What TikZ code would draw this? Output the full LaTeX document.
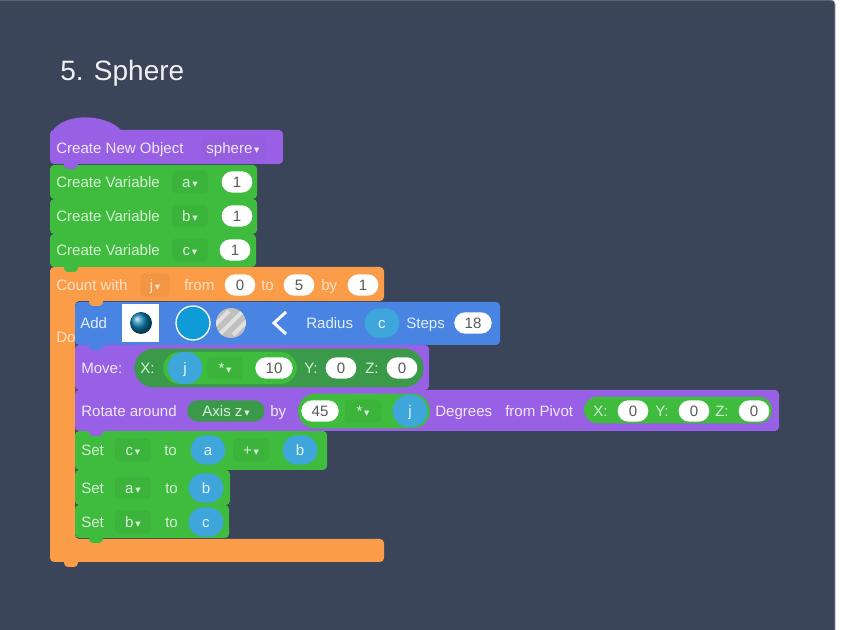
\documentclass[tikz,border=0pt]{standalone}
\usepackage{fontspec}
\setmainfont{Liberation Sans}
\newfontfamily\symfont{DejaVu Sans}
\usetikzlibrary{shapes.misc}

\definecolor{panelblue}{HTML}{3B4559}
\definecolor{blockpurple}{HTML}{9860E4}
\definecolor{blockgreen}{HTML}{3FBB3E}
\definecolor{blockorange}{HTML}{FB9C48}
\definecolor{blockblue}{HTML}{4A84E2}
\definecolor{varblue}{HTML}{3FA6DC}
\definecolor{darkgreen}{HTML}{3A9A4A}
\definecolor{colourblue}{HTML}{0F9BD7}
\definecolor{ballblue}{HTML}{0A7FB0}

% one stacked block with the small tab under it
\newcommand{\stackblock}[5]{
  \fill[#1,rounded corners=3pt] (#2,#3) rectangle (#4,#5);
  \fill[#1,rounded corners=3pt] ({#2+14},{#5-6}) rectangle ({#2+28},{#5+5});
}
\newcommand{\dn}{{\symfont\footnotesize\,▾}}

\begin{document}
\begin{tikzpicture}[x=0.75pt,y=-0.75pt,
  block text/.style={font=\fontsize{11.3}{13}\selectfont,text height=8pt,text depth=0pt},
  title node/.style={anchor=west,inner sep=0pt,text=white!92!panelblue,font=\fontsize{21}{23}\selectfont,text height=14.5pt,text depth=0pt},
  word node/.style={anchor=west,inner sep=0pt,block text},
  on purple/.style={word node,text=white!85!blockpurple},
  on green/.style={word node,text=white!78!blockgreen},
  on orange/.style={word node,text=white!70!blockorange},
  on blue/.style={word node,text=white!85!blockblue},
  val node/.style={rounded rectangle,fill=white,text=black!65,inner sep=0pt,minimum height=16pt,minimum width=23pt,block text},
  var node/.style={rounded rectangle,fill=varblue,text=white!88!varblue,inner sep=0pt,minimum height=22pt,minimum width=26pt,block text},
  drop node/.style={rounded corners=3pt,inner sep=0pt,minimum height=17pt,block text},
  green drop/.style={drop node,fill=blockgreen!96!black,text=white!78!blockgreen,minimum width=27pt},
  orange drop/.style={drop node,fill=blockorange!96!black,text=white!70!blockorange,minimum width=22pt},
  purple drop/.style={drop node,fill=blockpurple!98!black,text=white!85!blockpurple,minimum width=48pt}]

  \useasboundingbox (0,0) rectangle (843,630);
  \fill[white] (0,0) rectangle (843,630);
  \fill[panelblue,draw=gray!80,rounded corners=3pt] (-5,0) rectangle (835,640);

  \node[title node] (title) at (60,71) {5. Sphere};

  % orange loop, drawn first
  \fill[blockorange,rounded corners=3pt] (50,267) -- (384,267) -- (384,301) -- (75,301)
    -- (75,539) -- (384,539) -- (384,562) -- (50,562) -- cycle;
  \fill[blockorange,rounded corners=3pt] (64,555) rectangle (78,567);
  \node[on orange] (do) at (56,337) {Do};

  % inner blocks, from the bottom up
  \stackblock{blockgreen}{75}{505}{229}{538}
  \stackblock{blockgreen}{75}{470}{230}{505}
  \stackblock{blockgreen}{75}{431}{327}{470}
  \stackblock{blockpurple}{75}{390}{779}{431}
  \stackblock{blockpurple}{75}{345}{429}{390}
  \stackblock{blockblue}{75}{302}{500}{345}
  \fill[blockorange,rounded corners=3pt] (89,296) rectangle (103,306);

  % outer stack
  \stackblock{blockgreen}{50}{234}{256}{267}
  \stackblock{blockgreen}{50}{199}{257}{234}
  \stackblock{blockgreen}{50}{165}{257}{199}
  \stackblock{blockpurple}{50}{130}{283}{164}
  \fill[blockpurple] (50,136) .. controls (58,112) and (105,112) .. (122,131) -- cycle;

  % create object and variables
  \node[on purple] (create) at (56,148) {Create New Object};
  \node[purple drop] (sphere) at (233,148) {sphere\dn};
  \foreach \name/\ypos/\pillx in {a/182/237,b/216/237,c/250/235}{
    \node[on green] (var\name) at (56,\ypos) {Create Variable};
    \node[green drop] (drop\name) at (190,\ypos) {\name\dn};
    \node[val node] (init\name) at (\pillx,\ypos) {1};
  }

  % count row
  \node[on orange] (count) at (56,285) {Count with};
  \node[orange drop] (dropj) at (155,285) {j\dn};
  \node[on orange] (from) at (184,285) {from};
  \node[val node] (start) at (240,285) {0};
  \node[on orange] (to) at (261,285) {to};
  \node[val node] (stop) at (299,285) {5};
  \node[on orange] (by) at (321,285) {by};
  \node[val node] (stepval) at (363,285) {1};

  % add row
  \node[on blue] (add) at (80,323) {Add};
  \fill[white] (122,304) rectangle (159,342);
  \shade[ball color=ballblue] (141,323) circle (11);
  \fill[colourblue,draw=white,line width=1pt] (193,323) circle (17);
  \begin{scope}
    \clip (231,323) circle (15);
    \fill[black!25] (215,307) rectangle (247,339);
    \foreach \dx in {-14,0,14}
      \draw[black!12,line width=3pt] ({231+\dx-12},335) -- ({231+\dx+12},311);
  \end{scope}
  \draw[white,line width=2.2pt] (286,312) -- (274,323) -- (286,334);
  \node[on blue] (radius) at (306,323) {Radius};
  \node[var node] (varc) at (382,323) {c};
  \node[on blue] (steps) at (406,323) {Steps};
  \node[val node,minimum width=28pt] (stepsval) at (473,323) {18};

  % move row
  \node[on purple] (move) at (81,368) {Move:};
  \node[rounded rectangle,fill=darkgreen,minimum width=217pt,minimum height=29pt,inner sep=0pt] (movexyz) at (279,368) {};
  \node[rounded rectangle,fill=blockgreen,minimum width=100pt,minimum height=24pt,inner sep=0pt] (movemul) at (230,368) {};
  \node[on green] (movex) at (140,368) {X:};
  \node[var node,minimum height=24pt] (movej) at (185,368) {j};
  \node[green drop] (movestar) at (225,368) {*\dn};
  \node[val node,minimum width=28pt] (moveten) at (274,368) {10};
  \node[on green] (movey) at (304,368) {Y:};
  \node[val node] (movezero) at (341,368) {0};
  \node[on green] (movez) at (365,368) {Z:};
  \node[val node] (moveznum) at (402,368) {0};

  % rotate row
  \node[on purple] (rotate) at (81,411) {Rotate around};
  \node[rounded rectangle,fill=darkgreen,text=white!78!blockgreen,minimum width=58pt,minimum height=16pt,inner sep=0pt,block text] (axis) at (226,411) {Axis z\dn};
  \node[on purple] (byrot) at (270,411) {by};
  \node[rounded rectangle,fill=blockgreen,minimum width=99pt,minimum height=26pt,inner sep=0pt] (rotmul) at (364,411) {};
  \node[val node,minimum width=28pt] (fortyfive) at (320,411) {45};
  \node[green drop] (rotstar) at (363,411) {*\dn};
  \node[var node,minimum height=24pt] (rotj) at (410,411) {j};
  \node[on purple] (degrees) at (435,411) {Degrees};
  \node[on purple] (pivot) at (505,411) {from Pivot};
  \node[rounded rectangle,fill=blockgreen,minimum width=141pt,minimum height=20pt,inner sep=0pt] (pivotxyz) at (678,410) {};
  \node[on green] (pivx) at (593,411) {X:};
  \node[val node] (pivxval) at (633,411) {0};
  \node[on green] (pivy) at (655,411) {Y:};
  \node[val node] (pivyval) at (694,411) {0};
  \node[on green] (pivz) at (715,411) {Z:};
  \node[val node] (pivzval) at (754,411) {0};

  % set rows
  \node[on green] (setc) at (81,450) {Set};
  \node[green drop] (setcdrop) at (133,450) {c\dn};
  \node[on green] (setcto) at (164,450) {to};
  \node[var node] (seta) at (208,450) {a};
  \node[green drop] (plus) at (251,450) {+\dn};
  \node[var node] (setb) at (300,450) {b};
  \node[on green] (seta2) at (81,488) {Set};
  \node[green drop] (setadrop) at (133,488) {a\dn};
  \node[on green] (setato) at (165,488) {to};
  \node[var node] (setab) at (206,488) {b};
  \node[on green] (setb2) at (81,522) {Set};
  \node[green drop] (setbdrop) at (133,522) {b\dn};
  \node[on green] (setbto) at (165,522) {to};
  \node[var node] (setbc) at (206,522) {c};

\end{tikzpicture}
\end{document}
